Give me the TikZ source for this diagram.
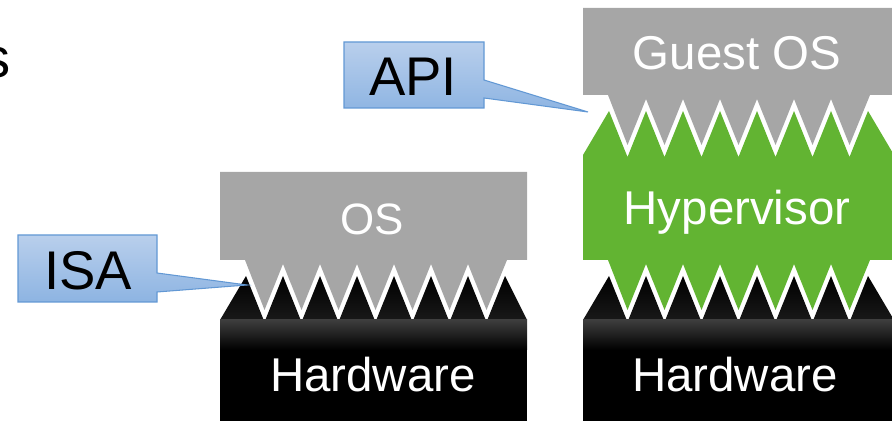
\documentclass[tikz,border=0pt]{standalone}
\usepackage{fontspec}
\setmainfont{Liberation Sans}
\definecolor{osgray}{HTML}{A6A6A6}
\definecolor{hvgreen}{HTML}{62B432}
\definecolor{calltop}{HTML}{B9CFEC}
\definecolor{callbot}{HTML}{8DB4E2}
\definecolor{callline}{HTML}{6298D4}
\begin{document}
\begin{tikzpicture}[x=0.02cm,y=-0.02cm,
  layertext/.style={text=white,font=\fontsize{27}{32}\selectfont,inner sep=0pt,anchor=base},
  smalllayertext/.style={text=white,font=\fontsize{25}{30}\selectfont,inner sep=0pt,anchor=base},
  calltext/.style={text=black,font=\fontsize{31}{36}\selectfont,inner sep=0pt,anchor=base},
  callshape/.style={draw=callline,line width=0.6pt,top color=calltop,bottom color=callbot},
  hwteeth/.style={top color=black,bottom color=black!90},
  hwglow/.style={top color=black!76,bottom color=black}]
\useasboundingbox (0,0) rectangle (892,421);

% partial letter at the left edge
\node[font=\fontsize{32}{36}\selectfont,inner sep=0pt,anchor=base east] (frag) at (10.5,78) {s};

% ---------- left stack ----------
\def\R{527}
\fill[osgray] (220,172) -- (\R,172) -- (\R,260) -- (507,260)
  \foreach \k in {6,...,1}{ -- ({264.5+37*\k},310) -- ({246+37*\k},264) }
  -- (264.5,310) -- (245,260) -- (220,260) -- cycle;
\shade[hwteeth] (220,320)
  \foreach \k in {0,...,6}{ -- ({246+37*\k},276) -- ({264.5+37*\k},322) }
  -- (505,276) -- (\R,320) -- cycle;
\fill[black] (220,320) rectangle (\R,425);
\shade[hwglow] (220,320) rectangle (\R,350);
\node[smalllayertext] (os) at (372,235) {OS};
\node[layertext] (hwleft) at (373,392) {Hardware};

% ---------- right stack ----------
\begin{scope}[shift={(363,0)}]
\def\R{531}
\fill[osgray] (220,8) -- (\R,8) -- (\R,95) -- (507,95)
  \foreach \k in {6,...,1}{ -- ({264.5+37*\k},145) -- ({246+37*\k},99) }
  -- (264.5,145) -- (245,95) -- (220,95) -- cycle;
\fill[hvgreen] (220,155)
  \foreach \k in {0,...,6}{ -- ({246+37*\k},111) -- ({264.5+37*\k},157) }
  -- (505,111) -- (\R,155) -- (\R,260) -- (507,260)
  \foreach \k in {6,...,1}{ -- ({264.5+37*\k},310) -- ({246+37*\k},264) }
  -- (264.5,310) -- (245,260) -- (220,260) -- cycle;
\shade[hwteeth] (220,320)
  \foreach \k in {0,...,6}{ -- ({246+37*\k},276) -- ({264.5+37*\k},322) }
  -- (505,276) -- (\R,320) -- cycle;
\fill[black] (220,320) rectangle (\R,425);
\shade[hwglow] (220,320) rectangle (\R,350);
\node[layertext] (guest) at (374,70) {Guest OS};
\node[layertext] (hyper) at (374,225) {Hypervisor};
\node[layertext] (hwright) at (372,392) {Hardware};
\end{scope}

% ---------- callouts ----------
\coordinate (apitip) at (588,112);
\coordinate (isatip) at (247,285);
\path[callshape] (344,42) -- (484,42) -- (484,80) -- (apitip) -- (484,98)
  -- (484,108) -- (344,108) -- cycle;
\node[calltext] (api) at (413,96) {API};
\path[callshape] (18,235) -- (157,235) -- (157,273) -- (isatip) -- (157,292)
  -- (157,302) -- (18,302) -- cycle;
\node[calltext] (isa) at (88,290) {ISA};
\end{tikzpicture}
\end{document}
